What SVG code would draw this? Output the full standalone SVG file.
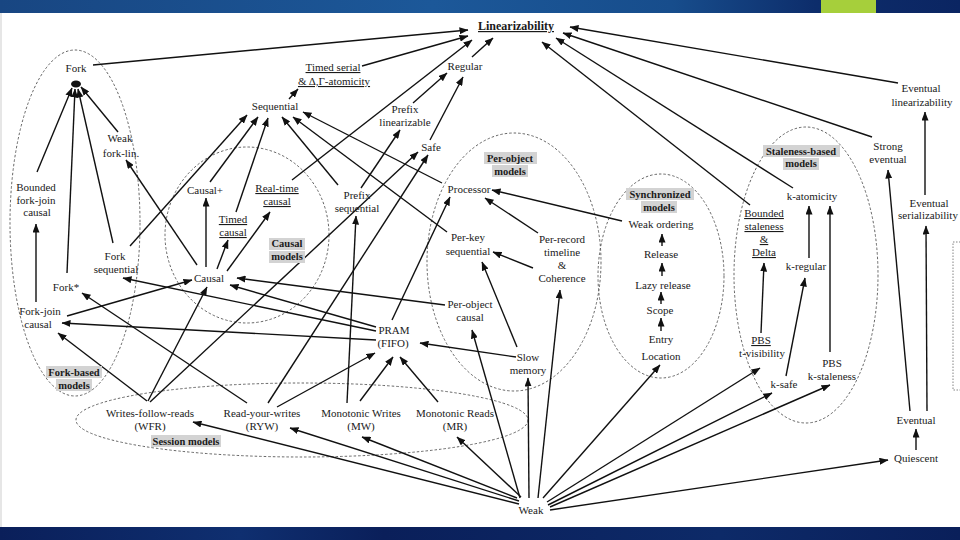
<svg xmlns="http://www.w3.org/2000/svg" width="960" height="540" viewBox="0 0 960 540">
<defs>
<linearGradient id="hdr" x1="0" y1="0" x2="1" y2="0">
<stop offset="0" stop-color="#184682"/>
<stop offset="0.45" stop-color="#1c5899"/>
<stop offset="0.7" stop-color="#174d8c"/>
<stop offset="0.85" stop-color="#0d2d6b"/>
<stop offset="1" stop-color="#0b2562"/>
</linearGradient>
<linearGradient id="ftr" x1="0" y1="0" x2="1" y2="0">
<stop offset="0" stop-color="#0a1f5a"/>
<stop offset="0.25" stop-color="#0f2f70"/>
<stop offset="0.4" stop-color="#0a1f5a"/>
<stop offset="0.75" stop-color="#0d2a68"/>
<stop offset="1" stop-color="#0a1f5a"/>
</linearGradient>
<marker id="ah" markerUnits="userSpaceOnUse" markerWidth="9" markerHeight="7" refX="8.5" refY="3.5" orient="auto">
<path d="M0,0 L9,3.5 L0,7 z" fill="#111"/>
</marker>
<style>
text{font-family:"Liberation Serif","Times New Roman",serif;font-size:11px;fill:#1a1a1a;text-anchor:middle}
.u{text-decoration:underline}
.b{font-weight:bold}
.lb{font-weight:bold;font-size:10.5px}
.g{fill:#d3d3d3}
.e{fill:none;stroke:#555;stroke-width:0.9;stroke-dasharray:2.5 2}
#conn line{stroke:#111;stroke-width:1.4;marker-end:url(#ah)}
</style>
</defs>
<rect x="0" y="0" width="960" height="540" fill="#ffffff"/>
<rect x="0" y="0" width="960" height="13" fill="url(#hdr)"/>
<rect x="821" y="0" width="55" height="13" fill="#a6cf3b"/>
<rect x="0" y="527" width="960" height="13" fill="url(#ftr)"/>
<rect x="0" y="13" width="2" height="514" fill="#e6e6e6"/>
<rect x="953" y="242" width="14" height="148" fill="none" stroke="#777" stroke-width="0.9" stroke-dasharray="1.5 1.5"/>

<g id="families">
<ellipse class="e" cx="75" cy="223" rx="65" ry="173"/>
<ellipse class="e" cx="247" cy="235" rx="82" ry="88"/>
<ellipse class="e" cx="514" cy="262" rx="87" ry="129"/>
<ellipse class="e" cx="661" cy="276" rx="63" ry="102"/>
<ellipse class="e" cx="806" cy="275" rx="72" ry="148"/>
<ellipse class="e" cx="302" cy="420" rx="226" ry="37"/>
</g>

<g id="conn">
<line x1="93" y1="65" x2="468" y2="30"/>
<line x1="362" y1="66" x2="468" y2="36"/>
<line x1="292" y1="180" x2="472" y2="40"/>
<line x1="472" y1="57" x2="493" y2="38"/>
<line x1="898" y1="83" x2="570" y2="27"/>
<line x1="872" y1="137" x2="563" y2="33"/>
<line x1="793" y1="188" x2="556" y2="38"/>
<line x1="750" y1="205" x2="542" y2="42"/>
<line x1="289" y1="99" x2="298" y2="89"/>
<line x1="430" y1="140" x2="463" y2="77"/>
<line x1="413" y1="103" x2="447" y2="73"/>
<line x1="361" y1="188" x2="400" y2="130"/>
<line x1="150" y1="402" x2="418" y2="152"/>
<line x1="268" y1="403" x2="428" y2="155"/>
<line x1="37" y1="172" x2="72" y2="88"/>
<line x1="67" y1="273" x2="75" y2="89"/>
<line x1="113" y1="243" x2="78" y2="89"/>
<line x1="118" y1="132" x2="81" y2="87"/>
<line x1="197" y1="265" x2="126" y2="160"/>
<line x1="130" y1="246" x2="247" y2="115"/>
<line x1="210" y1="182" x2="258" y2="117"/>
<line x1="236" y1="212" x2="268" y2="118"/>
<line x1="338" y1="185" x2="282" y2="117"/>
<line x1="442" y1="183" x2="303" y2="112"/>
<line x1="447" y1="232" x2="293" y2="117"/>
<line x1="206" y1="267" x2="206" y2="198"/>
<line x1="217" y1="269" x2="228" y2="240"/>
<line x1="227" y1="271" x2="270" y2="212"/>
<line x1="67" y1="316" x2="192" y2="280"/>
<line x1="36" y1="302" x2="36" y2="224"/>
<line x1="376" y1="340" x2="62" y2="323"/>
<line x1="376" y1="331" x2="123" y2="278"/>
<line x1="376" y1="327" x2="230" y2="285"/>
<line x1="445" y1="305" x2="237" y2="278"/>
<line x1="247" y1="403" x2="82" y2="293"/>
<line x1="147" y1="401" x2="58" y2="333"/>
<line x1="148" y1="401" x2="207" y2="287"/>
<line x1="277" y1="407" x2="375" y2="353"/>
<line x1="360" y1="401" x2="393" y2="357"/>
<line x1="438" y1="402" x2="400" y2="357"/>
<line x1="347" y1="403" x2="356" y2="216"/>
<line x1="392" y1="320" x2="450" y2="197"/>
<line x1="516" y1="357" x2="420" y2="343"/>
<line x1="517" y1="347" x2="482" y2="262"/>
<line x1="533" y1="268" x2="493" y2="252"/>
<line x1="538" y1="233" x2="485" y2="198"/>
<line x1="622" y1="221" x2="492" y2="190"/>
<line x1="520" y1="498" x2="472" y2="330"/>
<line x1="529" y1="498" x2="528" y2="378"/>
<line x1="538" y1="498" x2="560" y2="290"/>
<line x1="543" y1="498" x2="660" y2="365"/>
<line x1="547" y1="502" x2="760" y2="368"/>
<line x1="548" y1="505" x2="772" y2="393"/>
<line x1="550" y1="507" x2="830" y2="385"/>
<line x1="550" y1="510" x2="888" y2="460"/>
<line x1="519" y1="501" x2="290" y2="428"/>
<line x1="519" y1="504" x2="193" y2="422"/>
<line x1="517" y1="498" x2="362" y2="437"/>
<line x1="521" y1="497" x2="457" y2="437"/>
<line x1="662" y1="246" x2="662" y2="234"/>
<line x1="662" y1="276" x2="662" y2="263"/>
<line x1="661" y1="304" x2="661" y2="292"/>
<line x1="661" y1="331" x2="661" y2="318"/>
<line x1="809" y1="258" x2="809" y2="206"/>
<line x1="830" y1="352" x2="830" y2="206"/>
<line x1="761" y1="333" x2="764" y2="263"/>
<line x1="786" y1="376" x2="805" y2="278"/>
<line x1="916" y1="450" x2="916" y2="429"/>
<line x1="910" y1="411" x2="888" y2="170"/>
<line x1="927" y1="411" x2="926" y2="226"/>
<line x1="925" y1="195" x2="925" y2="112"/>
</g>
<ellipse cx="76" cy="84" rx="5" ry="3.5" fill="#111"/>

<g id="n-lin"><text x="516" y="30" class="b u" style="font-size:12px">Linearizability</text></g>
<g id="n-fork"><text x="76" y="72">Fork</text></g>
<g id="n-tser"><text x="333" y="71" class="u">Timed serial</text><text x="334" y="85" class="u">&amp; Δ,Γ-atomicity</text></g>
<g id="n-regular"><text x="465" y="70">Regular</text></g>
<g id="n-seq"><text x="275" y="110">Sequential</text></g>
<g id="n-plin"><text x="405" y="113">Prefix</text><text x="405" y="126">linearizable</text></g>
<g id="n-safe"><text x="431" y="151">Safe</text></g>
<g id="n-wfl"><text x="120" y="142">Weak</text><text x="121" y="157">fork-lin.</text></g>
<g id="n-bfjc"><text x="36" y="191">Bounded</text><text x="36" y="204">fork-join</text><text x="37" y="216">causal</text></g>
<g id="n-causalplus"><text x="205" y="194">Causal+</text></g>
<g id="n-rtc"><text x="277" y="192" class="u">Real-time</text><text x="277" y="205" class="u">causal</text></g>
<g id="n-tc"><text x="233" y="223" class="u">Timed</text><text x="233" y="236" class="u">causal</text></g>
<g id="n-fseq"><text x="115" y="260">Fork</text><text x="116" y="273">sequential</text></g>
<g id="n-causal"><text x="209" y="282">Causal</text></g>
<g id="n-forkstar"><text x="66" y="291">Fork*</text></g>
<g id="n-fjc"><text x="40" y="315">Fork-join</text><text x="38" y="328">causal</text></g>
<g id="n-pseq"><text x="357" y="199">Prefix</text><text x="357" y="212">sequential</text></g>
<g id="n-proc"><text x="469" y="193">Processor</text></g>
<g id="n-pks"><text x="468" y="241">Per-key</text><text x="468" y="255">sequential</text></g>
<g id="n-prt"><text x="562" y="243">Per-record</text><text x="562" y="256">timeline</text><text x="562" y="269">&amp;</text><text x="562" y="282">Coherence</text></g>
<g id="n-poc"><text x="470" y="308">Per-object</text><text x="470" y="321">causal</text></g>
<g id="n-pram"><text x="394" y="334">PRAM</text><text x="393" y="347">(FIFO)</text></g>
<g id="n-slow"><text x="528" y="361">Slow</text><text x="528" y="374">memory</text></g>
<g id="n-wo"><text x="661" y="228">Weak ordering</text></g>
<g id="n-rel"><text x="661" y="258">Release</text></g>
<g id="n-lrel"><text x="663" y="289">Lazy release</text></g>
<g id="n-scope"><text x="660" y="314">Scope</text></g>
<g id="n-entry"><text x="661" y="343">Entry</text></g>
<g id="n-loc"><text x="661" y="360">Location</text></g>
<g id="n-evlin"><text x="921" y="92">Eventual</text><text x="922" y="106">linearizability</text></g>
<g id="n-strong"><text x="888" y="150">Strong</text><text x="888" y="163">eventual</text></g>
<g id="n-katom"><text x="812" y="200">k-atomicity</text></g>
<g id="n-bsd"><text x="764" y="217" class="u">Bounded</text><text x="764" y="230" class="u">staleness</text><text x="764" y="243" class="u">&amp;</text><text x="764" y="256" class="u">Delta</text></g>
<g id="n-kreg"><text x="806" y="270">k-regular</text></g>
<g id="n-evser"><text x="929" y="207">Eventual</text><text x="928" y="219">serializability</text></g>
<g id="n-pbst"><text x="761" y="344" class="u">PBS</text><text x="762" y="357">t-visibility</text></g>
<g id="n-ksafe"><text x="784" y="388">k-safe</text></g>
<g id="n-pbsk"><text x="832" y="367">PBS</text><text x="832" y="380">k-staleness</text></g>
<g id="n-event"><text x="916" y="424">Eventual</text></g>
<g id="n-quies"><text x="916" y="462">Quiescent</text></g>
<g id="n-wfr"><text x="150" y="417">Writes-follow-reads</text><text x="150" y="430">(WFR)</text></g>
<g id="n-ryw"><text x="262" y="417">Read-your-writes</text><text x="262" y="430">(RYW)</text></g>
<g id="n-mw"><text x="361" y="417">Monotonic Writes</text><text x="361" y="430">(MW)</text></g>
<g id="n-mr"><text x="455" y="417">Monotonic Reads</text><text x="455" y="430">(MR)</text></g>
<g id="n-weak"><text x="531" y="514">Weak</text></g>

<g id="labels">
<rect class="g" x="269" y="238" width="36" height="12"/><rect class="g" x="269" y="251" width="36" height="12"/>
<text class="lb" x="287" y="247">Causal</text><text class="lb" x="287" y="260">models</text>
<rect class="g" x="46" y="366" width="56" height="12"/><rect class="g" x="56" y="379" width="36" height="12"/>
<text class="lb" x="74" y="376">Fork-based</text><text class="lb" x="74" y="389">models</text>
<rect class="g" x="484" y="152" width="53" height="12"/><rect class="g" x="492" y="165" width="36" height="12"/>
<text class="lb" x="510" y="162">Per-object</text><text class="lb" x="510" y="175">models</text>
<rect class="g" x="626" y="188" width="68" height="12"/><rect class="g" x="641" y="201" width="36" height="12"/>
<text class="lb" x="660" y="198">Synchronized</text><text class="lb" x="659" y="211">models</text>
<rect class="g" x="763" y="145" width="77" height="12"/><rect class="g" x="783" y="158" width="36" height="12"/>
<text class="lb" x="801" y="155">Staleness-based</text><text class="lb" x="801" y="167">models</text>
<rect class="g" x="151" y="435" width="70" height="12"/>
<text class="lb" x="186" y="445">Session models</text>
</g>
</svg>
